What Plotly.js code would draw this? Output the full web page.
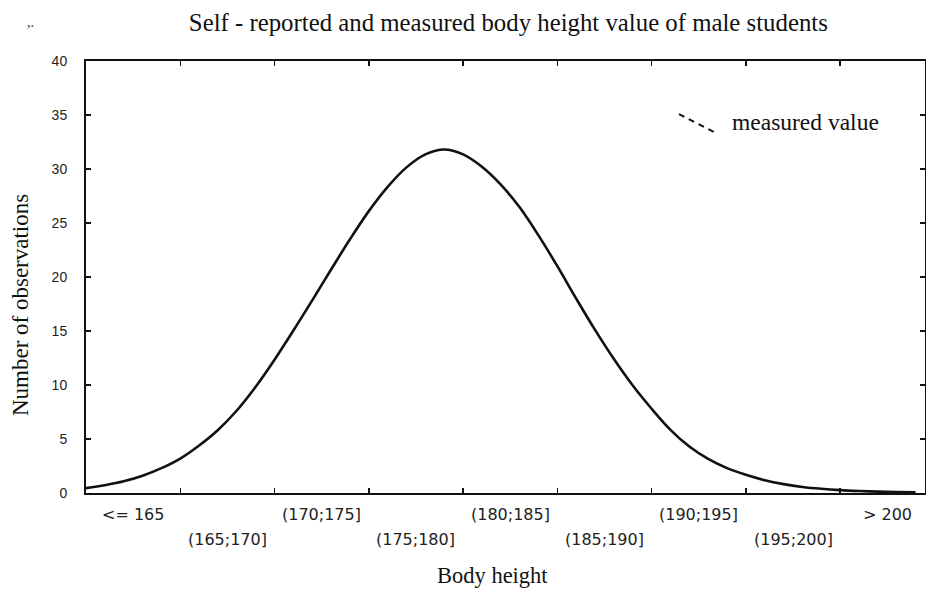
<!DOCTYPE html>
<html>
<head>
<meta charset="utf-8">
<script src="https://cdn.plot.ly/plotly-3.0.1.min.js"></script>
<style>html,body{margin:0;padding:0;background:#fff;}#chart{width:926px;height:590px;}</style>
</head>
<body>
<div id="chart"></div>
<script>
// Body height (cm) along the curve and number of observations
const heightCm = [160, 161, 162, 163, 164, 165, 166, 167, 168, 169, 170, 171, 172, 173, 174, 175,
  176, 177, 178, 179, 180, 181, 182, 183, 184, 185, 186, 187, 188, 189, 190, 191, 192, 193,
  194, 195, 196, 197, 198, 199, 200, 201, 202, 203, 204];
const observations = [0.45, 0.72, 1.08, 1.6, 2.3, 3.19, 4.4, 5.84, 7.64, 9.84, 12.34, 15.04, 17.84,
  20.69, 23.49, 26.1, 28.35, 30.15, 31.35, 31.8, 31.35, 30.2, 28.55, 26.45, 23.85, 21.0, 18.0,
  15.1, 12.4, 9.95, 7.8, 5.85, 4.3, 3.15, 2.3, 1.68, 1.18, 0.82, 0.56, 0.39, 0.27, 0.19,
  0.13, 0.09, 0.06];

// Category labels (5 cm bins) and bin boundaries
const categories = ["<= 165", "(165;170]", "(170;175]", "(175;180]", "(180;185]",
  "(185;190]", "(190;195]", "(195;200]", "> 200"];
const binCenters = [162.5, 167.5, 172.5, 177.5, 182.5, 187.5, 192.5, 197.5, 202.5];
const binEdges = [165, 170, 175, 180, 185, 190, 195, 200];
const yTicks = [0, 5, 10, 15, 20, 25, 30, 35, 40];

const serif = "Liberation Serif, Times New Roman, serif";
const sans = "DejaVu Sans, sans-serif";

const trace = {
  x: heightCm, y: observations, type: "scatter", mode: "lines",
  line: {color: "#111", width: 2.6, shape: "spline", smoothing: 1},
  showlegend: false, hoverinfo: "x+y"
};

const annotations = categories.map((c, i) => ({
  text: c, x: binCenters[i], xref: "x", y: 0, yref: "paper",
  xanchor: "center", yanchor: "middle", showarrow: false,
  yshift: i % 2 === 0 ? -21 : -46,
  font: {family: sans, size: 16, color: "#222"}
}));
annotations.push({
  text: "Body height", x: 0.484, xref: "paper", y: 0, yref: "paper",
  xanchor: "center", yanchor: "middle", showarrow: false, yshift: -82,
  font: {family: serif, size: 22.5, color: "#111"}
});
annotations.push({
  text: "Number of observations", x: 0, xref: "paper", y: 0.435, yref: "paper",
  xanchor: "center", yanchor: "middle", showarrow: false, xshift: -66, textangle: -90,
  font: {family: serif, size: 23, color: "#111"}
});
annotations.push({
  text: "measured value", x: 0.7675, xref: "paper", y: 0.858, yref: "paper",
  xanchor: "left", yanchor: "middle", showarrow: false,
  font: {family: serif, size: 23.5, color: "#111"}
});
annotations.push({
  text: ",.", x: -0.0667, xref: "paper", y: 1.09, yref: "paper",
  xanchor: "center", yanchor: "middle", showarrow: false,
  font: {family: serif, size: 14, color: "#333"}
});

const layout = {
  width: 926, height: 590,
  margin: {l: 86, r: 1, t: 61, b: 97, pad: 0},
  paper_bgcolor: "#fff", plot_bgcolor: "#fff",
  title: {
    text: "Self - reported and measured body height value of male students",
    x: 0.549, xref: "container", xanchor: "center",
    y: 0.962, yref: "container", yanchor: "middle",
    font: {family: serif, size: 24.8, color: "#111"}
  },
  xaxis: {
    range: [160, 204.5], tickmode: "array", tickvals: binEdges,
    showticklabels: false, ticks: "inside", ticklen: 5, tickwidth: 1.5, tickcolor: "#111",
    showline: true, linecolor: "#111", linewidth: 2, mirror: "ticks",
    showgrid: false, zeroline: false
  },
  yaxis: {
    range: [0, 40], tickmode: "array", tickvals: yTicks,
    ticks: "inside", ticklen: 5, tickwidth: 1.5, tickcolor: "#111",
    ticklabelstandoff: 14,
    tickfont: {family: "Liberation Sans, Arial, sans-serif", size: 14, color: "#222"},
    showline: true, linecolor: "#111", linewidth: 2, mirror: "ticks",
    showgrid: false, zeroline: false
  },
  shapes: [{
    type: "line", xref: "paper", yref: "paper",
    x0: 0.7068, y0: 0.877, x1: 0.7485, y1: 0.8355,
    line: {color: "#111", width: 2, dash: "6px,5px"}
  }],
  annotations: annotations
};

Plotly.newPlot("chart", [trace], layout, {displayModeBar: false, staticPlot: true});
</script>
</body>
</html>
